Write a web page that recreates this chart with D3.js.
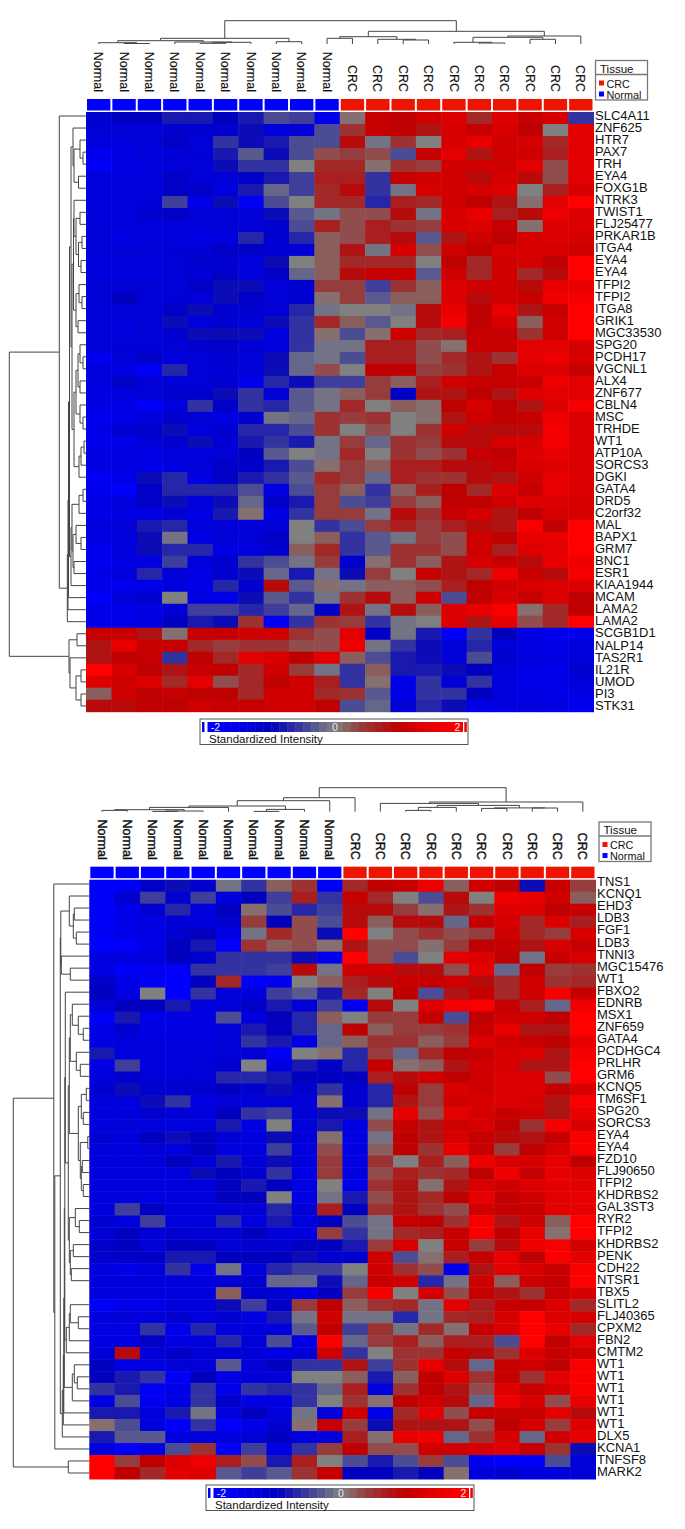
<!DOCTYPE html>
<html>
<head>
<meta charset="utf-8">
<script src="https://cdn.jsdelivr.net/npm/d3@7"></script>
<style>
  html, body { margin: 0; padding: 0; background: #fff; }
  text { font-family: "Liberation Sans", Arial, sans-serif; fill: #111; }
</style>
</head>
<body>
<div id="chart"></div>
<script>
const sampleLabels = ["Normal","Normal","Normal","Normal","Normal","Normal","Normal","Normal","Normal","Normal","CRC","CRC","CRC","CRC","CRC","CRC","CRC","CRC","CRC","CRC"];

const topGenes = ["SLC4A11","ZNF625","HTR7","PAX7","TRH","EYA4","FOXG1B","NTRK3","TWIST1","FLJ25477","PRKAR1B","ITGA4","EYA4","EYA4","TFPI2","TFPI2","ITGA8","GRIK1","MGC33530","SPG20","PCDH17","VGCNL1","ALX4","ZNF677","CBLN4","MSC","TRHDE","WT1","ATP10A","SORCS3","DGKI","GATA4","DRD5","C2orf32","MAL","BAPX1","GRM7","BNC1","ESR1","KIAA1944","MCAM","LAMA2","LAMA2","SCGB1D1","NALP14","TAS2R1","IL21R","UMOD","PI3","STK31"];

const bottomGenes = ["TNS1","KCNQ1","EHD3","LDB3","FGF1","LDB3","TNNI3","MGC15476","WT1","FBXO2","EDNRB","MSX1","ZNF659","GATA4","PCDHGC4","PRLHR","GRM6","KCNQ5","TM6SF1","SPG20","SORCS3","EYA4","EYA4","FZD10","FLJ90650","TFPI2","KHDRBS2","GAL3ST3","RYR2","TFPI2","KHDRBS2","PENK","CDH22","NTSR1","TBX5","SLITL2","FLJ40365","CPXM2","FBN2","CMTM2","WT1","WT1","WT1","WT1","WT1","WT1","DLX5","KCNA1","TNFSF8","MARK2"];

// standardized intensity per gene (row) and sample (column)
const topValues = [
  [-1.2,-1,-1,-.8,-.8,-1,-.8,-.4,-.5,-1.7,.1,1.1,1,1.2,1.4,.6,1.4,1.1,1.3,-.6],
  [-1.3,-1.3,-1.3,-1.2,-1.2,-1.2,-.9,-1.4,-1.3,-.4,.5,1.1,1,.8,1.3,1.1,1.3,1,0,1.5],
  [-1.4,-1.4,-1.3,-1.1,-1.3,-.6,-.9,-.8,-.4,-.4,.9,-.1,.5,0,1.3,1.6,1.2,1.3,.6,1.5],
  [-1.7,-1.5,-1.4,-1.3,-1.3,-.8,-.3,-.9,-.4,.3,.4,.3,-.4,1.1,1.5,.8,1.2,1.2,.7,1.5],
  [-1.8,-1.5,-1.4,-1.3,-1.3,-.9,-.6,-.6,0,.6,.6,.1,.5,.4,1.2,1.2,1.2,1.5,.3,1.5],
  [-1.4,-1.4,-1.4,-1.1,-1.3,-1.3,-1.1,-.8,-.5,.7,.7,-.6,1.1,1.2,1.2,.9,1.3,.9,.3,1.5],
  [-1.4,-1.4,-1.4,-1.1,-1.1,-1.4,-.8,-.2,-.5,.6,.9,-.6,-.1,1.3,1.2,1.3,1.4,0,.7,1.3],
  [-1.4,-1.4,-1.3,-.5,-1.6,-.9,-1.8,-.4,0,.6,.6,-.7,.7,.6,1.2,1,.8,.1,1.5,2],
  [-1.4,-1.4,-1.2,-1.1,-1.3,-1.3,-1.3,-.9,-.3,-.1,.3,.3,.9,-.1,1.3,1.6,.7,.9,1.7,1.4],
  [-1.3,-1.4,-1.4,-1.4,-1.4,-1.3,-1.3,-1.2,-.4,.7,.3,.7,.5,.4,1.3,1.4,1.1,.1,1.4,1.4],
  [-1.3,-1.5,-1.4,-1.4,-1.5,-1.4,-.7,-1.2,-.7,.2,.3,.7,.9,-.3,.8,1.2,1,1.3,1.4,1.3],
  [-1.3,-1.3,-1.3,-1.3,-1.3,-1.1,-1.1,-1.3,-1.3,.2,.8,-.1,1.3,.3,1.2,1,1.3,1.3,1.3,1.2],
  [-1.4,-1.4,-1.4,-1.3,-1.2,-1.2,-1.4,-.9,0,.2,.6,.6,.6,0,1,.6,1.2,1.3,1,2],
  [-1.4,-1.4,-1.4,-1.3,-1.3,-1.1,-1.4,-1.1,-.2,.2,.9,1.1,1.1,-.3,1.2,.6,1.2,.6,.9,2],
  [-1.3,-1.3,-1.3,-1.3,-1.1,-.9,-.9,-1.3,-1.2,.4,.4,-.5,.5,.2,1.4,1.2,1.2,.9,1.6,1.6],
  [-1.3,-1,-1.3,-1.3,-1.3,-.9,-1.1,-1.3,-1.2,.1,.4,-.3,.2,.2,1.4,.9,1.2,1.1,1.7,1.8],
  [-1.3,-1.3,-1.3,-1.1,-.9,-1.2,-1.2,-1.3,-.7,-.1,0,0,-.1,.9,1.6,1,1.6,.8,1.1,2],
  [-1.3,-1.4,-1.3,-.9,-1.4,-1.2,-1.3,-.9,-.6,.6,.2,-.3,0,.9,1.8,1,1.3,.2,1.2,2],
  [-1.3,-1.4,-1.3,-1.2,-.9,-.9,-.9,-1.4,-.6,.1,-.4,.1,1.2,.6,.7,1.1,1.1,.5,1.2,2],
  [-1.3,-1.3,-1.3,-1.3,-1.2,-1.1,-1.3,-1.4,-.6,-.1,-.1,.7,.7,.3,.1,1.1,1.1,1.5,1.5,1.3],
  [-1.7,-1.3,-1.1,-1.4,-1.3,-1.2,-1.3,-.9,-.2,-.1,-.4,.7,.7,.3,.6,.8,.5,1.5,1.7,1.3],
  [-1.4,-1.5,-1.8,-.7,-1.3,-1.3,-1.3,-.9,-.2,.3,0,1,1,.4,.5,.8,1.1,1.4,1.4,1.1],
  [-1.4,-1.1,-1.3,-1.3,-1.3,-1.2,-1.7,-.7,-.9,-.5,-.5,.4,.2,.7,1.2,1.1,1.1,1.1,1.7,1.5],
  [-1.5,-1.4,-1.3,-1.2,-1.2,-.9,-.6,-1.3,-.3,-.1,.2,.4,-1.1,.8,.8,1,.8,1.4,1.5,1.5],
  [-1.5,-1.5,-1.8,-1.4,-.6,-1.1,-.6,-.7,-.3,-.1,.6,0,.2,.1,1,1.3,1,.8,1.4,1.8],
  [-1.7,-1.6,-1.4,-1.2,-1.3,-1.5,-1.2,-.1,-.2,.5,.4,.5,0,.1,.8,1.2,1,1.1,1.7,1.4],
  [-1.6,-1.2,-1.2,-.9,-1.4,-1.2,-.7,-.7,-.4,.5,0,.3,0,.5,1.2,.9,.9,.9,1.8,1.4],
  [-1.7,-1.6,-1.3,-1.2,-.9,-1.3,-.8,-.6,-.8,-.1,.4,-.2,.5,.4,.9,.9,1.3,1.3,1.8,1.4],
  [-1.5,-1.5,-1.5,-1.4,-1.4,-1.3,-1,-.3,0,-.1,.6,0,.5,.3,.5,1.1,1,1.4,1.6,1.4],
  [-1.5,-1.5,-1.6,-1.5,-1.3,-1.1,-1.1,-.8,-.4,.1,.4,.2,.7,.7,.9,.9,1.1,1.3,1.4,1.4],
  [-1.8,-1.6,-.9,-.7,-1.5,-1.1,-.8,-.6,-.3,.6,.4,-.2,.7,.5,.5,.9,.8,1.2,1.6,1.4],
  [-1.7,-1.9,-1.1,-.7,-.7,-.7,-.4,-1.5,-.4,.4,.2,-.6,.2,.7,1,.6,1.4,1.1,1.6,1.4],
  [-1.6,-1.4,-1.1,-.9,-1.4,-.9,-.2,-1.1,-.8,.4,-.4,-.5,.4,.2,1,1,1.2,1.4,1.4,1.3],
  [-1.6,-1.5,-1.5,-1.3,-1.5,-.8,.1,-1.5,-.6,.4,.4,-.1,.9,.5,1.1,1.3,.8,1,1.3,1.3],
  [-1.4,-1.3,-.8,-.7,-1.4,-1.3,-1.3,-1.3,0,-.6,-.4,.4,.7,.4,.7,.9,.8,1.9,1,2],
  [-1.5,-1.4,-.9,-.1,-1.5,-1.3,-1.3,-1.1,0,.2,-.6,-.3,-.1,.4,.3,1.2,1,1.6,1.6,2],
  [-1.7,-1.4,-.9,-.7,-.7,-1.5,-1.4,-1.2,.2,.6,-.6,-.3,.5,.5,.3,1.2,.7,1.4,1.5,2],
  [-1.7,-1.5,-1.5,-.5,-1.4,-1.2,-.6,-.4,-.1,.4,-1.2,.1,.5,.2,.8,1.3,1.1,.9,1.6,1.7],
  [-1.6,-1.4,-.7,-1.3,-1.5,-1.2,-.9,-.2,-.8,-.1,-.9,.4,0,1.1,.8,.6,1.7,1.1,.9,1.8],
  [-1.6,-1.7,-1.6,-1.4,-1.6,-.7,-1.2,.9,-.3,.1,-.1,.2,.2,.3,.7,1,1.2,1.3,1.4,1.4],
  [-1.9,-1.3,-1.2,0,-1.5,-1.6,-.9,-.3,-.6,-.1,.5,.9,.2,1.2,-.4,1,1.3,1.1,1.4,1],
  [-1.6,-1.6,-1.5,-1.4,-.5,-.5,-.7,-.5,-.2,-1.1,.8,-.1,.9,.2,1.4,1.6,1.9,.1,.6,1],
  [-1.6,-1.6,-1.5,-1,-.8,-.9,.5,-1.8,-.6,.5,.4,-.6,-.1,0,1.4,.8,1.6,.3,.6,2],
  [1.1,1.1,.8,.1,1.1,1.1,1.2,1.2,.5,.3,1.5,-1.1,-.1,-.8,-1.9,-.6,-1,-1.5,-1.7,-1.6],
  [.8,1.6,1.1,1.1,.6,.4,.5,.5,.3,.3,1.7,-.1,-.6,-.9,-1.3,-.7,-1.3,-1.5,-1.6,-1.4],
  [.8,1,1.1,-.6,1,.6,1.5,1.3,1,1.5,.2,-.4,-.8,-.9,-1.3,-.4,-1.2,-1.4,-1.5,-1.4],
  [2,1.3,1,.8,1.1,1,.6,1.2,.4,-.1,-.6,.2,-.8,-.8,-.9,-1,-1.4,-1.6,-1.6,-1.2],
  [1.4,1.2,1.4,.6,1.5,.3,.6,1,1.2,.7,-.6,.1,-1.6,-.6,-1.3,-.6,-1.4,-1.6,-1.6,-1.4],
  [.2,1.2,1,1.1,1,1,.6,1.2,1.2,.6,.5,-.3,-1.6,-.6,-.6,-1,-1.4,-1.5,-1.6,-1.5],
  [.9,.9,1,1,1.2,1.1,1.1,1.2,1.2,1,-.4,-.2,-1.3,-.7,-.9,-1.6,-1.5,-1.4,-1.5,-1.7],
];

const bottomValues = [
  [-1.9,-1.8,-1.1,-.9,-1.2,-.1,-.6,.2,.5,-1.8,.6,1,1.1,1.7,.2,1.2,1,-.9,1.1,.4],
  [-1.9,-1.2,-.5,-1.2,-.5,-1.4,-1,-.5,.7,-.6,1.1,.6,0,-.4,.9,0,1.7,1.6,1.2,.2],
  [-1.9,-1.6,-1.2,-.7,-1.4,-1,.1,-.4,-.7,-.5,.9,.9,.4,.1,.8,.5,1.4,1.4,1,1.1],
  [-1.9,-1.6,-1.5,-1.3,-1.4,-1.2,.4,-1,.3,-.4,.9,.2,.9,.9,-.2,1.1,1.3,.6,1.4,.7],
  [-1.8,-1.6,-1.5,-1.2,-1,-1.5,-.1,.6,.3,-.9,2,0,.3,.5,.3,.4,1.2,.6,.4,1.3],
  [-2,-1.9,-1.6,-1,-.8,-1.9,.5,.2,.3,.1,.8,.3,.3,.1,.4,1,1.1,.8,1.3,1.1],
  [-1.4,-1.4,-1.4,-1,-1.2,-.6,-.6,-.6,-.9,-1.7,2,.3,-.4,0,1.5,1.4,1,-.1,1.1,1.3],
  [-1.5,-1.9,-1.7,-1.8,-.6,-.6,-.6,-.5,.9,-.1,1.2,1.2,.9,.9,.3,1.5,-.2,1,.4,.5],
  [-1.1,-1.6,-1.9,-2,-1,.6,-1.9,-1.7,0,.2,.7,.9,1.1,1.1,1.2,.9,.6,1.2,.5,.6],
  [-1,-1.5,0,-2,-.6,-1.3,-1.4,-.5,-.3,-.8,.6,0,1,-.4,.8,1.1,.6,1.2,1.9,1.1],
  [-1.3,-1,-1,-.8,-1.4,-1.3,-1.1,-.8,-1.3,-.5,-1.7,.9,0,1.4,1.8,1.9,1.1,.7,-.2,1.7],
  [-1.8,-.8,-1.6,-1.5,-1.5,-.4,-1.4,-1,-.7,.2,0,.4,.4,1.1,-.4,1,1.2,1.2,1,2],
  [-1.6,-1.2,-1.5,-1.5,-1.5,-1.3,-.8,-1,-.7,-.2,1,.2,.4,.4,.5,1.1,1.6,.8,.8,2],
  [-1.5,-1.4,-1.4,-1.4,-1.4,-1.3,-.6,-.8,-1.5,-.2,.2,.5,.5,.2,.4,1.4,1.2,1.1,1,1.6],
  [-.8,-1.4,-1.4,-1.4,-1.4,-1.3,-1.3,-1.8,0,.1,-.7,.4,-.2,.6,1,1.1,1.3,1.4,.8,1.8],
  [-1.5,-.5,-1.4,-1.4,-1.3,-1.2,0,-1.4,-.8,-1.1,-.7,1.1,.1,.2,.8,1.2,1.3,.8,.8,2],
  [-1.4,-1.2,-1.3,-1.3,-1.3,-.7,-.7,-.8,-1,-1,-1,.7,.9,1.2,1,1.2,1.4,1.4,.3,2],
  [-1.2,-.9,-1.2,-1.2,-1.2,-1,-1.2,-.9,-1.2,-.6,-1.2,-.7,1,.4,1.3,1.2,1.4,1.4,1.1,1.3],
  [-1.4,-1.4,-.9,-.6,-1.5,-1.3,-1.3,-1.3,-1.3,.1,-1.2,-.7,.8,.4,1.2,1.3,1.4,1.3,.8,1.9],
  [-1.4,-1.4,-1.2,-1.3,-1.4,-1,-.6,-.5,-1.3,-.9,-.9,-.1,1.5,.3,1.5,1.3,1.1,1.2,.8,1.6],
  [-1.4,-1.3,-1.4,-1.4,-1.4,-.8,-1.5,0,-1.3,-.8,-1.5,.3,1.1,.8,1.2,1.3,1,.5,1.8,1.3],
  [-1.2,-1.4,-1,-.9,-1,-1.3,-1.4,-.9,-1.3,.1,-1.5,-.1,1,.8,1.3,1.1,.9,.8,1.1,1.9],
  [-1.4,-1.4,-1.3,-1.4,-1,-1.4,-1.4,-.5,-1.4,.3,-1.5,.2,1,.5,1.6,1.1,.4,1,1.3,1.9],
  [-1.4,-1.4,-1.4,-1,-1.3,-.8,-1.3,-.9,-1.4,.4,-1.5,.5,0,.7,.2,1.7,1.3,1.3,1.6,1],
  [-1.4,-1.4,-1.4,-1.4,-.9,-1,-1.2,-.6,-1.5,.4,-1.4,.3,.7,.5,.6,1,1.7,1.1,1.6,1.4],
  [-1.4,-1.4,-1.4,-1.4,-1.4,-1,-.8,-1,-1.5,0,-1.6,.5,.8,.1,.8,1.3,1.2,1.4,1.5,1.5],
  [-1.4,-1.4,-1.5,-1.4,-1.4,-1,-1,0,-1.5,-.1,-.8,.3,.8,.6,1,1.6,1,1.2,1.5,1.6],
  [-1.4,-.5,-1,-1.4,-1.4,-1.3,-1.3,-.7,-1.3,.7,-1,.5,.8,.5,.3,1.2,1.1,1.1,1.5,1.6],
  [-1.2,-1.4,-.5,-1.4,-1.4,-.7,-1.4,-.8,-1.4,-1,-.4,-.1,1.1,1,.5,1.8,.8,1.2,.2,2],
  [-1.3,-1,-1.3,-1.2,-1.3,-1.3,-1,-1.4,-1.4,.4,-.6,-.1,.6,.7,1.1,1.9,1,1.6,.1,2],
  [-1.1,-1,-1.3,-1,-1,-1.3,-1.2,-1.2,-1,-1,-.8,.4,1.3,0,1.1,.4,.9,1.7,1.9,1.2],
  [-1.2,-1.1,-1.1,-.8,-.8,-1,-1,-1,-.9,-1.2,-1.2,1.2,-.4,.1,.7,1.1,1.6,1,1.9,1.5],
  [-1.4,-1.6,-1.4,-.6,-1.6,-.1,-1.4,-.7,-.5,-.5,0,1.2,.5,.3,-1.7,.8,1.5,1.3,1.1,1.9],
  [-1.4,-1.4,-1.4,-1.4,-1.4,-1.3,-1.2,-.2,-.2,-.9,-.2,1.1,1.2,-.7,-.1,1.2,.2,1.2,1.1,2],
  [-1.4,-1.4,-1.4,-1.4,-1.4,.2,-1.2,-1.2,-1.5,-1,.4,1.8,0,1.3,.3,1.1,.8,.5,1.1,1.3],
  [-1.9,-1.6,-1.6,-1.4,-1.4,-.9,-.5,-1.1,.4,1,.2,.5,.6,-.1,1.5,.7,1.1,1.1,1.4,.6],
  [-1.4,-1.3,-1.4,-1.2,-1.4,-1.2,-1.5,-.8,-.1,1.2,-.1,-.1,-.7,-.1,.6,.7,1.3,2,1.4,1.3],
  [-1.5,-1.5,-.6,-1.6,-.7,-1.4,-1.4,-1.4,-.3,1,-.5,.5,-.1,.6,.1,1.1,1.3,2,1.6,.6],
  [-1.5,-1.5,-1.1,-1.5,-1.4,-.7,-1.3,-.4,-1.5,1.9,-.2,.4,.7,.2,.7,.7,-.4,2,1,1.5],
  [-1.3,.9,-1.3,-1.1,-1.3,-1.3,-1.3,-1.5,-1.3,1.2,-.6,0,.5,.5,1.1,.9,.5,1.4,1.1,1.2],
  [-1,-1.5,-1.5,-1.3,-1.3,-.3,-1.3,-1,-.6,-.6,.8,-.5,.5,1.6,.9,-.2,1.1,1.2,1,1.9],
  [-1,-.8,-.6,-1.8,-1,-1.5,-1.3,-1.3,0,0,.2,-.8,.2,1,1.4,.5,1.1,.5,1.5,1.9],
  [-.6,-.8,-1.8,-1.6,-.6,-1.6,-.6,-.7,-.6,-.2,.7,-1.4,.5,1,.8,.3,1.4,1.1,1.3,1.9],
  [-1.5,-.4,-1.7,-1.5,-.6,-1.1,-1.5,-1.5,-.6,0,.5,.1,1,1.2,.9,-.2,1.7,1.3,.3,1.6],
  [-.8,-.8,-1.4,-.8,-.1,-1.4,-1,-1.4,-.1,-1.4,1.2,-1.6,.6,1.5,.3,1.1,1.1,1.1,1.5,.9],
  [.1,-.4,-1.4,-1.9,-.6,-1.9,-1.6,-1.2,.1,1.1,.4,-.9,.8,.8,.8,.3,1,1.3,.4,1.4],
  [-.8,-.3,-.3,-1.4,-1.4,-1.4,-1.3,-1,-1.4,-1.4,.7,.1,1.6,1.7,-.2,.5,1.3,-.2,1.2,1.5],
  [-1.4,-1.9,-1.5,-.4,.5,-1.8,-.5,-1.5,-.6,.4,1,.3,.3,1.2,1.2,1.3,1.4,1.1,.5,-.9],
  [2,.4,1,1.4,1.7,.7,.3,-.8,.7,0,-.4,-.8,-.4,.4,-.4,-1.7,-2,-1.9,-.4,-1.3],
  [2,1,.6,1.5,1.4,-.3,-.5,-.3,.5,1.1,-1,-1,-.8,-1,.1,-1.4,-1.2,-1.4,-1.4,-1.3],
];

// dendrograms: [left, right, merge height in px], a number is a leaf index
const topColTree = [
  [[[0, [1, 2, .5], 1.3], [3, [[4, 5, .7], 6, 1.7], 2], 3.3], [7, 8, 2.3], 5.7],
  [[[9, 10, 5.7], [11, [12, 13, 4], 4.7], 7.3], [[[14, [15, 16, 1], 1.7], [17, 18, 4.7], 6.7], 19, 8], 12.7],
  23.3,
];
const bottomColTree = [
  [[[[[[0, 1, 1.3], [[2, 3, .3], 4, .7], 2], 5, 4.3], [[6, 7, .3], 8, 2.3], 5.7], 9, 11], 10, 14],
  [[11, [[[12, 13, 1.3], 14, 4.3], [[15, 16, 3.3], [17, 18, 3.7], 3.8], 6.3], 8.3], 19, 9.7],
  24,
];

const topRowA = [1, [[2, [3, 4, 3], 6], [5, 6, 7.5], 12], 13];
const topRowB = [[7, [[8, 9, 6], [[10, 11, 4], [12, 13, 5], 7.5], 10], 12], [[14, [15, 16, 4], 7], [17, 18, 8], 10], 12.5];
const topRowC = [[[19, [20, 21, 3], 6], [22, 23, 6], 8], [24, [25, 26, 3], 6], 10];
const topRowD = [[[27, 28, 2], 29, 5], 30, 7];
const topRowE = [[[[31, 32, 3], 33, 7], [[34, [35, 36, 5], 10], [37, 38, 12], 13], 14], 39, 15];
const topRowTree = [
  [0, [[[[[topRowA, [topRowB, [topRowC, topRowD, 12], 14], 15], topRowE, 16.5], 40, 17.5], 41, 18], 42, 18.7], 26.7],
  [[43, 44, 9], [45, [[46, 47, 5], [48, 49, 5], 10], 16], 17],
  76.7,
];

const botRowP = [[1, [[2, 3, 15], [4, 5, 13], 16], 20], [6, [7, 8, 19], 28], 28.5];
const botRow1 = [[10, [11, [12, 13, 6], 11], 17], [14, [15, 16, 9], 13], 19];
const botRow2 = [[[17, 18, 3], [19, 20, 6], 8], [[21, 22, 1.5], [[23, 24, 7], [25, 26, 6], 8], 9], 11];
const botRow3 = [[27, [28, 29, 10], 14], [[30, 31, 16], [32, 33, 18], 19], 20];
const botRow4 = [[[35, [36, 37, 11], 19], 38, 20], 39, 23];
const botRow5 = [[40, [41, 42, 12], 15], 43, 17];
const bottomRowTree = [
  [0, [[botRowP, [[[[[[9, [[botRow1, botRow2, 20], botRow3, 21], 24], botRow4, 24.5], botRow5, 25], 44, 25.5], 45, 26], 46, 27], 29], 47, 34.5], 35.5],
  [48, 49, 21],
  76,
];

const tissueNames = ["CRC", "Normal"];
const tissueColors = ["#ee1500", "#0000ff"];

// colour ramp of the standardized intensity legend
const rampValues = [-2, -1.3, -1, -.6, 0, .4, .8, 1, 1.3, 2];
const rampColors = ["#0000ff", "#0000d7", "#0000be", "#3232a0", "#808080", "#963c3c", "#af1414", "#be0000", "#d70000", "#ff0000"];
const legendTicks = [-2, 0, 2];

const color = d3.scaleLinear().domain(rampValues).range(rampColors).interpolate(d3.interpolateRgb).clamp(true);

const svg = d3.select("#chart").append("svg").attr("width", 685).attr("height", 1529);

function drawDendrogram(g, tree, leafPos, vertical) {
  const segs = [];
  const walk = (node) => {
    if (typeof node === "number") return { p: leafPos(node), h: 0 };
    const a = walk(node[0]);
    const b = walk(node[1]);
    const h = node[2];
    segs.push([a.p, a.h, a.p, h], [b.p, b.h, b.p, h], [a.p, h, b.p, h]);
    return { p: (a.p + b.p) / 2, h };
  };
  walk(tree);
  g.selectAll("line")
    .data(segs)
    .join("line")
    .attr("x1", (d) => (vertical ? leafPos.fixed(d[1]) : d[0]))
    .attr("x2", (d) => (vertical ? leafPos.fixed(d[3]) : d[2]))
    .attr("y1", (d) => (vertical ? d[0] : leafPos.fixed(d[1])))
    .attr("y2", (d) => (vertical ? d[2] : leafPos.fixed(d[3])))
    .attr("stroke", "#444")
    .attr("stroke-width", 1);
}

function drawPanel(cfg) {
  const { genes, values, colTree, rowTree } = cfg;
  const g = svg.append("g");
  const nCols = sampleLabels.length;

  const x = d3.scaleBand().domain(d3.range(nCols)).range([cfg.left, cfg.right]);
  const y = d3.scaleBand().domain(d3.range(genes.length)).range([cfg.top, cfg.bottom]);
  const yLabel = d3.scaleBand().domain(d3.range(genes.length)).range(cfg.labelRange);

  // heat map cells
  g.append("g")
    .selectAll("g")
    .data(values)
    .join("g")
    .attr("transform", (d, i) => `translate(0,${y(i)})`)
    .selectAll("rect")
    .data((d) => d)
    .join("rect")
    .attr("x", (d, i) => x(i))
    .attr("width", x.bandwidth() + 0.5)
    .attr("height", y.bandwidth() + 0.5)
    .attr("fill", (d) => color(d));

  // tissue annotation bar
  g.append("g")
    .selectAll("rect")
    .data(sampleLabels)
    .join("rect")
    .attr("x", (d, i) => x(i) + 1)
    .attr("y", cfg.top - 13)
    .attr("width", x.bandwidth() - 2)
    .attr("height", 11.5)
    .attr("fill", (d) => tissueColors[tissueNames.indexOf(d)]);

  // sample labels
  g.append("g")
    .selectAll("text")
    .data(sampleLabels)
    .join("text")
    .attr("transform", (d, i) => `translate(${x(i) + x.bandwidth() / 2},${cfg.top - 20}) rotate(90)`)
    .attr("text-anchor", "end")
    .attr("dy", "0.35em")
    .attr("font-size", 12.5)
    .style("stroke", "#111")
    .style("stroke-width", cfg.labelStroke)
    .text((d) => d);

  // gene labels
  const axis = g.append("g")
    .attr("transform", `translate(${cfg.right + 1.5},0)`)
    .call(d3.axisRight(yLabel).tickSize(0).tickPadding(0).tickFormat((i) => genes[i]));
  axis.select(".domain").remove();
  axis.selectAll("text")
    .attr("font-size", 12.5)
    .attr("font-family", '"Liberation Sans", Arial, sans-serif')
    .attr("transform", "scale(1.04,1)");

  // column dendrogram
  const colDepth = d3.scaleLinear().domain([0, colTree[2]]).range([cfg.colBase, cfg.colRoot]);
  const colPos = (i) => x(i) + x.bandwidth() / 2;
  colPos.fixed = colDepth;
  drawDendrogram(g.append("g"), colTree, colPos, false);

  // row dendrogram
  const rowDepth = d3.scaleLinear().domain([0, rowTree[2]]).range([cfg.left, cfg.left - rowTree[2]]);
  const rowScale = d3.scalePoint().domain(d3.range(genes.length)).range(cfg.rowLeaves);
  const rowPos = (i) => rowScale(i);
  rowPos.fixed = rowDepth;
  drawDendrogram(g.append("g"), rowTree, rowPos, true);

  // tissue legend
  const leg = g.append("g").attr("transform", `translate(${cfg.legendX},${cfg.legendY})`);
  leg.append("rect").attr("width", 52).attr("height", 39.5).attr("fill", "#fff").attr("stroke", "#777").attr("stroke-width", 1.3);
  leg.append("line").attr("x1", 0).attr("x2", 52).attr("y1", 14).attr("y2", 14).attr("stroke", "#777").attr("stroke-width", 1.3);
  leg.append("text").attr("x", 4.5).attr("y", 12).attr("font-size", 11.5).text("Tissue");
  tissueNames.forEach((name, i) => {
    leg.append("rect").attr("x", 3.5).attr("y", 20 + i * 11).attr("width", 5).attr("height", 5).attr("fill", tissueColors[i]);
    leg.append("text").attr("x", 11).attr("y", 27 + i * 11).attr("font-size", 10.8).text(name);
  });

  // intensity legend
  const bar = g.append("g").attr("transform", `translate(${cfg.barX},${cfg.barY})`);
  bar.append("rect").attr("width", 268).attr("height", 25.5).attr("fill", "#fff").attr("stroke", "#555");
  const barScale = d3.scaleLinear().domain([-2, 2]).range([7.5, 262.5]);
  const steps = d3.range(-2, 2, 0.125);
  bar.selectAll(".step")
    .data(steps)
    .join("rect")
    .attr("class", "step")
    .attr("x", (d) => barScale(d))
    .attr("y", 3)
    .attr("width", barScale(0.125) - barScale(0) + 0.5)
    .attr("height", 10)
    .attr("fill", (d) => color(d + 0.0625));
  bar.append("rect").attr("x", 2).attr("y", 3).attr("width", 2.5).attr("height", 10).attr("fill", "#0000ff");
  bar.append("rect").attr("x", 264.3).attr("y", 3).attr("width", 2.5).attr("height", 10).attr("fill", "#ee0000");
  bar.selectAll(".tick-label")
    .data(legendTicks)
    .join("text")
    .attr("class", "tick-label")
    .attr("x", (d) => barScale(d) + (d === -2 ? 8 : d === 2 ? -5 : 0))
    .attr("y", 12)
    .attr("text-anchor", "middle")
    .attr("font-size", 10.5)
    .style("fill", "#e8e8e8")
    .text((d) => d);
  bar.append("text").attr("x", 9).attr("y", 24).attr("font-size", 11.5).text("Standardized Intensity");
}

drawPanel({
  genes: topGenes, values: topValues, colTree: topColTree, rowTree: topRowTree,
  left: 86, right: 593.5, top: 112, bottom: 711.7, labelRange: [110, 711.7], labelStroke: 0.15,
  colBase: 44, colRoot: 20.7, rowLeaves: [116, 706],
  legendX: 595.5, legendY: 60.5, barX: 200, barY: 719,
});

drawPanel({
  genes: bottomGenes, values: bottomValues, colTree: bottomColTree, rowTree: bottomRowTree,
  left: 89.3, right: 595.5, top: 879.7, bottom: 1479, labelRange: [876.3, 1478.3], labelStroke: 0.4,
  colBase: 811.7, colRoot: 787.7, rowLeaves: [884, 1473],
  legendX: 599, legendY: 822, barX: 206, barY: 1485,
});
</script>
</body>
</html>
